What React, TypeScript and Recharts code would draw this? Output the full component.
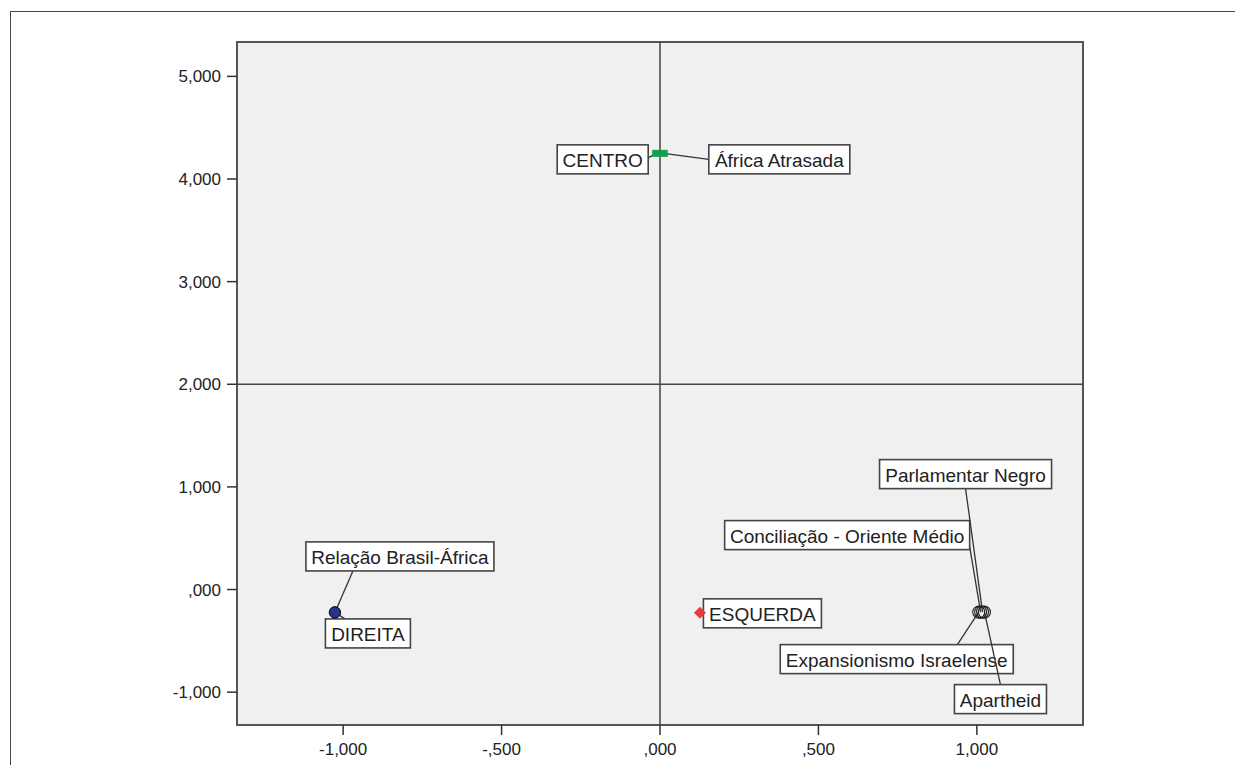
import {
  ReferenceArea,
  ReferenceLine,
  Scatter,
  ScatterChart,
  XAxis,
  YAxis,
} from "recharts";

const FONT = "'Liberation Sans', Arial, sans-serif";

const xTicks = [-1, -0.5, 0, 0.5, 1];
const xTickLabels = ["-1,000", "-,500", ",000", ",500", "1,000"];
const yTicks = [-1, 0, 1, 2, 3, 4, 5];
const yTickLabels = ["-1,000", ",000", "1,000", "2,000", "3,000", "4,000", "5,000"];

const direitaPoints = [
  { name: "Relação Brasil-África", x: -1.026, y: -0.223 },
  { name: "DIREITA", x: -1.026, y: -0.223 },
];
const centroPoints = [
  { name: "CENTRO", x: -0.012, y: 4.25 },
  { name: "África Atrasada", x: 0.012, y: 4.25 },
];
const esquerdaPoints = [{ name: "ESQUERDA", x: 0.126, y: -0.227 }];
const temaPoints = [
  { name: "Expansionismo Israelense", x: 1.006, y: -0.22 },
  { name: "Conciliação - Oriente Médio", x: 1.012, y: -0.22 },
  { name: "Parlamentar Negro", x: 1.018, y: -0.22 },
  { name: "Apartheid", x: 1.024, y: -0.22 },
];

// label box centre offset (px from the point) and leader-line anchor on the box (fractions)
const labelLayout: Record<string, { dx: number; dy: number; ax: number; ay: number }> = {
  "Relação Brasil-África": { dx: 65, dy: -56, ax: 0.25, ay: 1 },
  DIREITA: { dx: 33, dy: 21, ax: 0.23, ay: 0 },
  CENTRO: { dx: -53.5, dy: 6, ax: 1, ay: 0.45 },
  "África Atrasada": { dx: 115.5, dy: 6, ax: 0, ay: 0.5 },
  ESQUERDA: { dx: 62.5, dy: 0.5, ax: 0, ay: 0.5 },
  "Parlamentar Negro": { dx: -17, dy: -138, ax: 0.5, ay: 1 },
  "Conciliação - Oriente Médio": { dx: -133.5, dy: -77, ax: 1, ay: 0.9 },
  "Expansionismo Israelense": { dx: -82, dy: 47, ax: 0.76, ay: 0 },
  Apartheid: { dx: 16, dy: 87, ax: 0.5, ay: 0 },
};

const allPoints = [...direitaPoints, ...centroPoints, ...esquerdaPoints, ...temaPoints];

const LABEL_SIZE = 19;

let ctx: CanvasRenderingContext2D | null = null;
function textWidth(s: string) {
  if (!ctx) ctx = document.createElement("canvas").getContext("2d");
  if (!ctx) return s.length * 9.5;
  ctx.font = `${LABEL_SIZE}px ${FONT}`;
  return ctx.measureText(s).width;
}

function LabelShape(props: any) {
  const { cx, cy, payload } = props;
  const lay = labelLayout[payload.name];
  if (!lay) return <g />;
  const w = Math.round(textWidth(payload.name) + 11);
  const h = 29;
  const bx = cx + lay.dx - w / 2;
  const by = cy + lay.dy - h / 2;
  return (
    <g>
      <line
        x1={cx}
        y1={cy}
        x2={bx + lay.ax * w}
        y2={by + lay.ay * h}
        stroke="#333"
        strokeWidth={1.3}
      />
      <rect x={bx} y={by} width={w} height={h} fill="#fff" stroke="#444" strokeWidth={1.6} />
      <text
        x={bx + w / 2}
        y={by + h / 2 + 1}
        textAnchor="middle"
        dominantBaseline="central"
        fontSize={LABEL_SIZE}
        fontFamily={FONT}
        fill="#222"
      >
        {payload.name}
      </text>
    </g>
  );
}

const BlueDot = (p: any) => (
  <circle cx={p.cx} cy={p.cy} r={5.6} fill="#2a3486" stroke="#111" strokeWidth={1} />
);
const GreenSquare = (p: any) => (
  <rect x={p.cx - 4} y={p.cy - 3.5} width={8} height={7} fill="#14a04c" />
);
const RedDiamond = (p: any) => (
  <polygon
    points={`${p.cx},${p.cy - 6} ${p.cx + 6},${p.cy} ${p.cx},${p.cy + 6} ${p.cx - 6},${p.cy}`}
    fill="#e8393d"
  />
);
const OpenCircle = (p: any) => (
  <circle cx={p.cx} cy={p.cy} r={6} fill="none" stroke="#222" strokeWidth={1.1} />
);

export default function App() {
  const tickStyle = { fill: "#222", fontSize: 17, fontFamily: FONT };
  return (
    <div style={{ position: "relative", width: 1227, height: 757 }}>
      <div
        style={{
          position: "absolute",
          left: 2,
          top: 3,
          width: 1233,
          height: 762,
          borderTop: "1.5px solid #444",
          borderLeft: "1.5px solid #444",
          boxSizing: "border-box",
        }}
      />
      <div style={{ position: "absolute", left: 0, top: 0 }}>
        <ScatterChart
          width={1227}
          height={757}
          margin={{ top: 34, right: 152, bottom: 10, left: 169 }}
        >
          <XAxis
            type="number"
            dataKey="x"
            domain={[-1.335, 1.335]}
            allowDataOverflow
            ticks={xTicks}
            tickFormatter={(v: number) => xTickLabels[xTicks.indexOf(v)] ?? ""}
            axisLine={false}
            tickLine={{ stroke: "#333", strokeWidth: 1.5 }}
            tickSize={10}
            tickMargin={8}
            height={30}
            tick={tickStyle}
          />
          <YAxis
            type="number"
            dataKey="y"
            domain={[-1.32, 5.335]}
            allowDataOverflow
            ticks={yTicks}
            tickFormatter={(v: number) => yTickLabels[yTicks.indexOf(v)] ?? ""}
            axisLine={false}
            tickLine={{ stroke: "#333", strokeWidth: 1.5 }}
            tickSize={10}
            tickMargin={6}
            width={60}
            tick={tickStyle}
          />
          <ReferenceArea
            x1={-1.335}
            x2={1.335}
            y1={-1.32}
            y2={5.335}
            fill="#f0f0f0"
            fillOpacity={1}
            stroke="#555"
            strokeWidth={2}
            ifOverflow="visible"
          />
          <ReferenceLine x={0} stroke="#444" strokeWidth={1.5} />
          <ReferenceLine y={2} stroke="#444" strokeWidth={1.5} />
          <Scatter data={allPoints} shape={LabelShape} isAnimationActive={false} />
          <Scatter data={direitaPoints} shape={BlueDot} isAnimationActive={false} />
          <Scatter data={centroPoints} shape={GreenSquare} isAnimationActive={false} />
          <Scatter data={esquerdaPoints} shape={RedDiamond} isAnimationActive={false} />
          <Scatter data={temaPoints} shape={OpenCircle} isAnimationActive={false} />
        </ScatterChart>
      </div>
    </div>
  );
}
